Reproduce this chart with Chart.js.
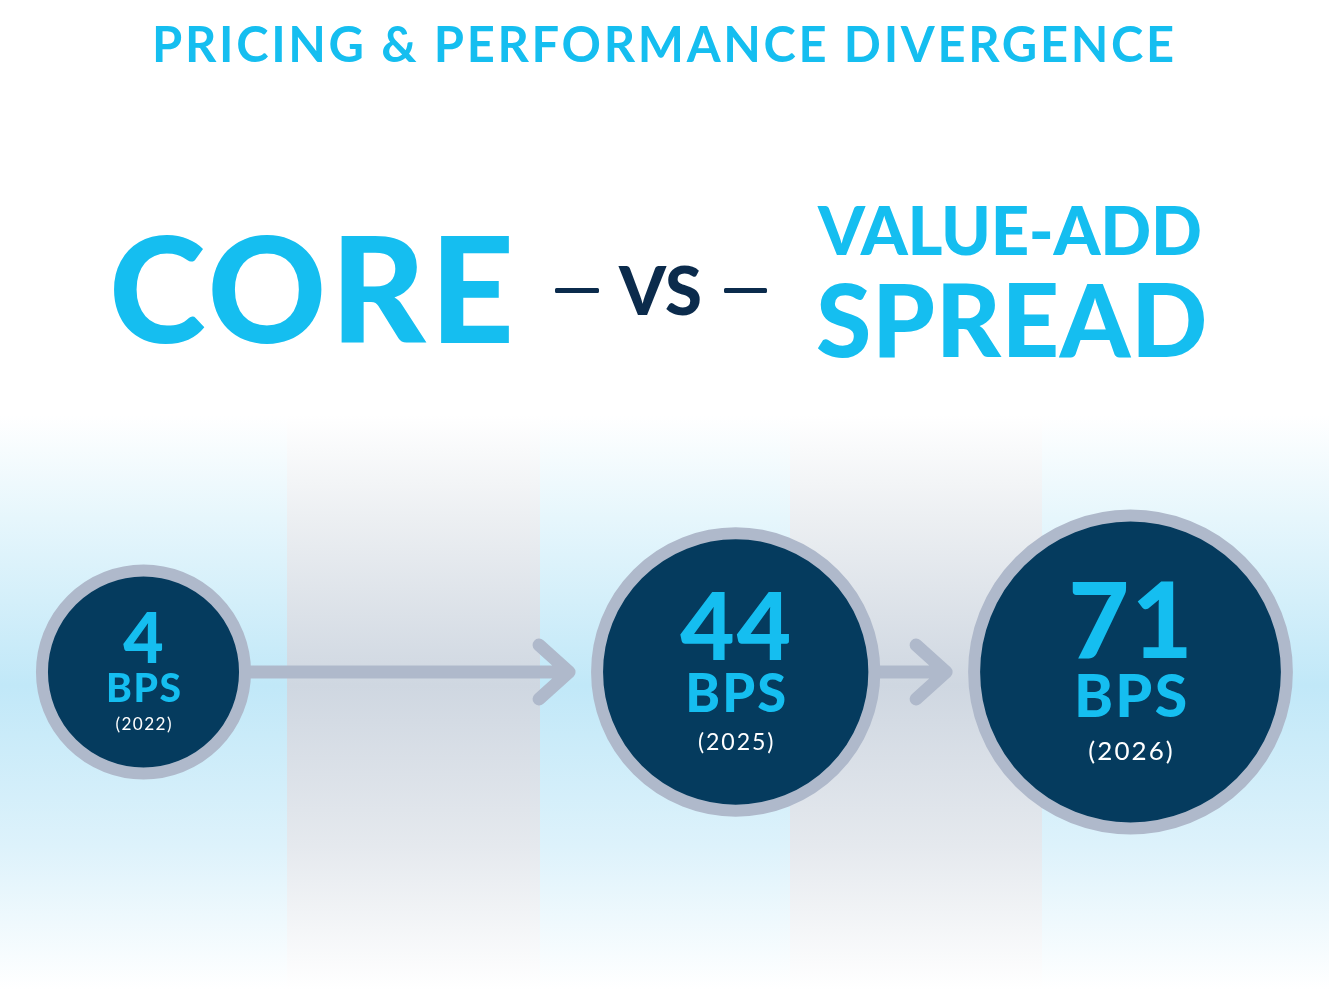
<!DOCTYPE html>
<html>
<head>
<meta charset="utf-8">
<title>Core vs Value-Add Spread</title>
<script src="https://cdn.jsdelivr.net/npm/chart.js@4.4.1/dist/chart.umd.min.js"></script>
<style>
  html, body { margin: 0; padding: 0; background: #ffffff; }
  #wrap { width: 1329px; height: 1000px; }
</style>
</head>
<body>
<div id="wrap"><canvas id="spreadChart" width="1329" height="1000"></canvas></div>
<script>
// datos del grafico
const timelineLabels = ["2022", "", "", "2025", "", "2026"];
const years = ["2022", "2025", "2026"];
const spreadBps = [4, 44, 71];
const unitLabel = "BPS";

const CYAN = "#15BEF0";
const NAVY = "#053B5E";
const DARK = "#0B2B4C";
const RING = "#AFB9CB";
const RING_W = 12;
const CAP = 0.7165; // cap height de Lato

// radio exterior del circulo segun el spread
const outerRadius = (bps) => 98.5 + 3.52 * Math.pow(bps, 0.68);

// texto ajustado a un ancho con letter spacing
const fitText = (ctx, text, left, right, baseline, cap, weight, color) => {
  const size = cap / CAP;
  ctx.font = `${weight} ${size}px Lato`;
  ctx.letterSpacing = "0px";
  const m = ctx.measureText(text);
  const ink = m.actualBoundingBoxLeft + m.actualBoundingBoxRight;
  const ls = (right - left - ink) / (text.length - 1);
  ctx.letterSpacing = ls + "px";
  ctx.fillStyle = color;
  ctx.textAlign = "left";
  ctx.textBaseline = "alphabetic";
  ctx.fillText(text, left + m.actualBoundingBoxLeft, baseline);
  ctx.letterSpacing = "0px";
};

// fondo con franjas
const backdrop = {
  id: "backdrop",
  beforeDraw(chart) {
    const { ctx, width, height } = chart;
    ctx.save();
    ctx.fillStyle = "#ffffff";
    ctx.fillRect(0, 0, width, height);
    const edges = [0, 287, 540, 790, 1042, width];
    const blue = ctx.createLinearGradient(0, 415, 0, 990);
    blue.addColorStop(0, "rgba(255,255,255,1)");
    blue.addColorStop(0.18, "#E6F6FC");
    blue.addColorStop(0.47, "#C1E8F8");
    blue.addColorStop(0.75, "#DDF2FB");
    blue.addColorStop(1, "rgba(255,255,255,1)");
    const grey = ctx.createLinearGradient(0, 415, 0, 990);
    grey.addColorStop(0, "rgba(255,255,255,1)");
    grey.addColorStop(0.18, "#ECEFF2");
    grey.addColorStop(0.47, "#CFD7E1");
    grey.addColorStop(0.75, "#E5E9EE");
    grey.addColorStop(1, "rgba(255,255,255,1)");
    for (let i = 0; i < edges.length - 1; i++) {
      ctx.fillStyle = i % 2 === 0 ? blue : grey;
      ctx.fillRect(edges[i], 415, edges[i + 1] - edges[i], 575);
    }

    // titulos
    fitText(ctx, "PRICING & PERFORMANCE DIVERGENCE", 155, 1173, 62, 35, 700, CYAN);
    fitText(ctx, "CORE", 114, 509, 343, 105, 900, CYAN);
    fitText(ctx, "VS", 618, 700, 315, 48, 900, DARK);
    fitText(ctx, "VALUE-ADD", 817, 1200, 255, 48, 900, CYAN);
    fitText(ctx, "SPREAD", 817, 1204, 357, 72, 900, CYAN);
    ctx.fillStyle = DARK;
    ctx.beginPath();
    ctx.roundRect(555, 288, 44, 5, 1.5);
    ctx.roundRect(724, 288, 43, 5, 1.5);
    ctx.fill();
    ctx.restore();
  }
};

// flechas entre circulos
const connectors = {
  id: "connectors",
  beforeDatasetsDraw(chart) {
    const { ctx } = chart;
    const pts = chart.getDatasetMeta(0).data;
    ctx.save();
    ctx.strokeStyle = RING;
    ctx.lineWidth = 13;
    ctx.lineCap = "round";
    ctx.lineJoin = "round";
    for (let i = 0; i < pts.length - 1; i++) {
      const a = pts[i];
      const b = pts[i + 1];
      const y = a.y;
      const tip = b.x - outerRadius(spreadBps[i + 1]) - 22;
      ctx.beginPath();
      ctx.moveTo(a.x, y);
      ctx.lineTo(tip, y);
      ctx.moveTo(tip - 30, y - 27);
      ctx.lineTo(tip, y);
      ctx.lineTo(tip - 30, y + 27);
      ctx.stroke();
    }
    ctx.restore();
  }
};

// textos dentro de los circulos
const bubbleLabels = {
  id: "bubbleLabels",
  afterDatasetsDraw(chart) {
    const { ctx } = chart;
    const pts = chart.getDatasetMeta(0).data;
    ctx.save();
    ctx.textAlign = "center";
    ctx.textBaseline = "alphabetic";
    pts.forEach((el, i) => {
      const R = outerRadius(spreadBps[i]);
      const cx = el.x;
      const cy = el.y;

      let size = (0.465 * R) / CAP;
      ctx.font = `900 ${size}px Lato`;
      ctx.letterSpacing = 0.02 * size + "px";
      ctx.fillStyle = CYAN;
      ctx.fillText(String(spreadBps[i]), cx + 0.01 * size, cy - 0.085 * R);

      size = (0.26 * R) / CAP;
      ctx.font = `900 ${size}px Lato`;
      ctx.letterSpacing = 0.04 * size + "px";
      ctx.fillText(unitLabel, cx + 0.02 * size, cy + 0.275 * R);

      size = 0.16 * R;
      ctx.font = `400 ${size}px Lato`;
      ctx.letterSpacing = 0.08 * size + "px";
      ctx.fillStyle = "#ffffff";
      ctx.fillText(`(${years[i]})`, cx + 0.04 * size, cy + 0.54 * R);
    });
    ctx.letterSpacing = "0px";
    ctx.restore();
  }
};

const ctx = document.getElementById("spreadChart");

const data = {
  datasets: [
    {
      label: "Core vs Value-Add Spread",
      data: years.map((year, i) => ({ x: year, y: 0, bps: spreadBps[i] })),
      backgroundColor: NAVY,
      borderColor: RING,
      borderWidth: RING_W,
      radius: (c) => (c.raw ? outerRadius(c.raw.bps) - RING_W / 2 : 0),
      hoverRadius: 0,
      clip: false
    }
  ]
};

const config = {
  type: "bubble",
  data: data,
  options: {
    responsive: false,
    animation: false,
    events: [],
    layout: {
      autoPadding: false,
      padding: { left: 143.5, right: 198.5, top: 372, bottom: 28 }
    },
    scales: {
      x: { type: "category", labels: timelineLabels, offset: false, display: false },
      y: { type: "linear", min: -1, max: 1, display: false }
    },
    plugins: {
      legend: { display: false },
      tooltip: { enabled: false }
    }
  },
  plugins: [backdrop, connectors, bubbleLabels]
};

const myChart = new Chart(ctx, config);
</script>
</body>
</html>
